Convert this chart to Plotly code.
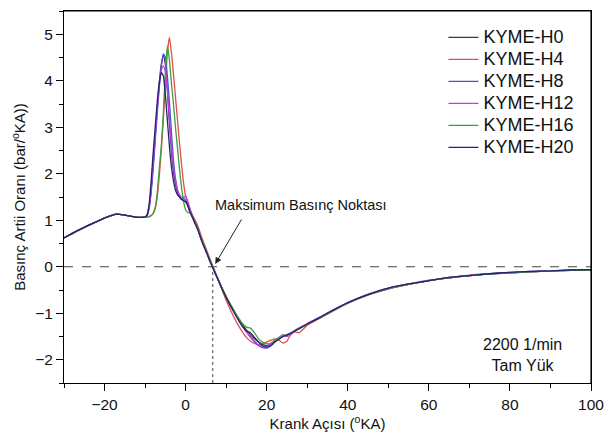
import plotly.graph_objects as go

# ---------------- data ----------------
crank_angle = [-30, -27, -24, -21, -18, -17, -15, -13, -11, -10,
               -9.5, -9, -8.5, -8, -7.5, -7, -6.5, -6, -5.5, -5, -4.5, -4, -3.5, -3,
               -2.5, -2, -1.5, -1, -0.5, 0, 0.5, 1, 1.5, 2,
               3, 4, 5, 6, 7, 8, 9, 10, 11, 12, 13, 14, 15, 16, 17, 18, 19, 20,
               21, 22, 23, 24, 25, 26, 27, 28,
               30, 33, 36, 40, 45, 50, 55, 60, 65, 70, 75, 80, 85, 90, 95, 100]

start_common = [0.62, 0.76, 0.89, 1.01, 1.11, 1.13, 1.11, 1.08, 1.06, 1.07]

peak_H0 = [1.10, 1.28, 1.65, 2.20, 2.80, 3.40, 3.95, 4.35, 4.55, 4.35, 3.80, 3.10, 2.50, 2.05,
           1.78, 1.60, 1.50, 1.45, 1.42, 1.40, 1.32, 1.20, 1.10, 1.00]
peak_H4 = [1.07, 1.08, 1.10, 1.14, 1.25, 1.50, 1.95, 2.50, 3.15, 3.90, 4.60, 4.93, 4.60, 4.15,
           3.65, 3.15, 2.65, 2.20, 1.80, 1.52, 1.38, 1.26, 1.15, 1.06]
peak_H8 = [1.10, 1.25, 1.60, 2.10, 2.70, 3.30, 3.85, 4.30, 4.58, 4.50, 4.10, 3.55, 2.90, 2.30,
           1.90, 1.65, 1.50, 1.45, 1.47, 1.43, 1.33, 1.20, 1.10, 1.00]
peak_H12 = [1.12, 1.30, 1.70, 2.30, 2.85, 3.40, 3.90, 4.22, 4.32, 4.20, 3.80, 3.20, 2.60, 2.15,
            1.85, 1.65, 1.55, 1.50, 1.50, 1.52, 1.42, 1.27, 1.13, 1.02]
peak_H16 = [1.07, 1.08, 1.10, 1.15, 1.28, 1.60, 2.10, 2.60, 3.30, 4.20, 4.75, 4.45, 3.95, 3.50,
            3.00, 2.55, 2.10, 1.70, 1.40, 1.22, 1.17, 1.16, 1.10, 1.02]
peak_H20 = [1.12, 1.35, 1.85, 2.45, 3.00, 3.55, 3.95, 4.18, 4.10, 3.70, 3.15, 2.60, 2.15, 1.85,
            1.65, 1.55, 1.50, 1.45, 1.42, 1.40, 1.33, 1.20, 1.10, 1.00]

fall_H0 = [0.82, 0.57, 0.36, 0.14, -0.07, -0.27, -0.46, -0.64, -0.80, -0.96, -1.10, -1.24, -1.36,
           -1.46, -1.55, -1.62, -1.67, -1.70, -1.66, -1.60, -1.54, -1.50, -1.46, -1.42, -1.37, -1.32]
fall_H4 = [0.88, 0.63, 0.40, 0.17, -0.05, -0.27, -0.50, -0.72, -0.92, -1.10, -1.26, -1.40, -1.52,
           -1.60, -1.65, -1.68, -1.66, -1.62, -1.58, -1.55, -1.58, -1.64, -1.60, -1.45, -1.40, -1.42]
fall_H8 = [0.80, 0.55, 0.34, 0.12, -0.08, -0.28, -0.48, -0.66, -0.83, -0.98, -1.13, -1.27, -1.40,
           -1.52, -1.62, -1.70, -1.74, -1.75, -1.70, -1.62, -1.55, -1.50, -1.47, -1.43, -1.38, -1.33]
fall_H12 = [0.81, 0.56, 0.35, 0.13, -0.07, -0.27, -0.47, -0.65, -0.82, -0.98, -1.13, -1.28, -1.40,
            -1.50, -1.60, -1.68, -1.72, -1.72, -1.66, -1.58, -1.52, -1.46, -1.50, -1.45, -1.37, -1.32]
fall_H16 = [0.82, 0.57, 0.36, 0.14, -0.06, -0.26, -0.46, -0.64, -0.80, -0.95, -1.10, -1.22, -1.30,
            -1.32, -1.42, -1.55, -1.62, -1.66, -1.64, -1.58, -1.53, -1.49, -1.46, -1.42, -1.38, -1.33]
fall_H20 = [0.80, 0.55, 0.34, 0.12, -0.08, -0.28, -0.48, -0.66, -0.83, -0.99, -1.14, -1.28, -1.38,
            -1.42, -1.52, -1.62, -1.70, -1.73, -1.70, -1.62, -1.56, -1.50, -1.47, -1.43, -1.38, -1.33]

tail_H0 = [-1.24, -1.10, -0.96, -0.78, -0.60, -0.47, -0.38, -0.30, -0.24, -0.19, -0.15, -0.13, -0.11, -0.09, -0.08, -0.07]
tail_H4 = [-1.26, -1.11, -0.97, -0.79, -0.61, -0.48, -0.38, -0.30, -0.24, -0.19, -0.15, -0.13, -0.11, -0.09, -0.08, -0.07]
tail_H8 = [-1.23, -1.09, -0.95, -0.77, -0.60, -0.47, -0.37, -0.30, -0.23, -0.19, -0.15, -0.12, -0.10, -0.09, -0.08, -0.06]
tail_H12 = [-1.22, -1.09, -0.96, -0.78, -0.59, -0.46, -0.37, -0.29, -0.24, -0.18, -0.15, -0.13, -0.11, -0.09, -0.07, -0.06]
tail_H16 = [-1.24, -1.10, -0.96, -0.78, -0.60, -0.47, -0.38, -0.30, -0.24, -0.19, -0.16, -0.13, -0.11, -0.09, -0.08, -0.07]
tail_H20 = [-1.23, -1.10, -0.95, -0.77, -0.60, -0.46, -0.37, -0.30, -0.23, -0.19, -0.15, -0.12, -0.10, -0.09, -0.07, -0.06]

series_names = ["KYME-H0", "KYME-H4", "KYME-H8", "KYME-H12", "KYME-H16", "KYME-H20"]
series_colors = ["#3a3a3a", "#e0504a", "#4f4fd6", "#c43de0", "#3f9e3f", "#24246e"]
series_values = [
    start_common + peak_H0 + fall_H0 + tail_H0,
    start_common + peak_H4 + fall_H4 + tail_H4,
    start_common + peak_H8 + fall_H8 + tail_H8,
    start_common + peak_H12 + fall_H12 + tail_H12,
    start_common + peak_H16 + fall_H16 + tail_H16,
    start_common + peak_H20 + fall_H20 + tail_H20,
]

x_ticks = [-20, 0, 20, 40, 60, 80, 100]
y_ticks = [-2, -1, 0, 1, 2, 3, 4, 5]
x_range = [-30, 100]
y_range = [-2.5, 5.5]
max_point_x = 6.7

FONT = "Liberation Sans, Arial, sans-serif"

fig = go.Figure()
for name, color, vals in zip(series_names, series_colors, series_values):
    fig.add_trace(go.Scatter(x=crank_angle, y=vals, name='<span style="font-size:18px">%s</span>' % name,
                             mode="lines",
                             line=dict(color=color, width=1.3, shape="spline", smoothing=0.5)))

# top and right frame lines, drawn in data coordinates at the axis limits
fig.add_shape(type="line", xref="x", yref="y", x0=x_range[0], x1=x_range[1], y0=y_range[1], y1=y_range[1],
              line=dict(color="black", width=1.2), layer="above")
fig.add_shape(type="line", xref="x", yref="y", x0=x_range[1], x1=x_range[1], y0=y_range[0], y1=y_range[1],
              line=dict(color="black", width=1.2), layer="above")

# reference lines
fig.add_shape(type="line", xref="x", yref="y", x0=x_range[0], x1=x_range[1], y0=0, y1=0,
              line=dict(color="#444444", width=1, dash="dash"), layer="below")
fig.add_shape(type="line", xref="x", yref="y", x0=max_point_x, x1=max_point_x, y0=y_range[0], y1=0,
              line=dict(color="#444444", width=1, dash="dot"), layer="below")

fig.add_annotation(x=max_point_x + 0.6, y=0.06, ax=14, ay=1.05, xref="x", yref="y", axref="x", ayref="y",
                   text="", showarrow=True, arrowhead=2, arrowsize=1.3, arrowwidth=1, arrowcolor="#222222")
fig.add_annotation(x=28.5, y=1.32, xref="x", yref="y", text="Maksimum Basınç Noktası", showarrow=False,
                   font=dict(family=FONT, size=14.5, color="#111111"))
fig.add_annotation(x=83, y=-1.9, xref="x", yref="y", text="2200 1/min<br>Tam Yük", showarrow=False,
                   font=dict(family=FONT, size=16, color="#111111"), align="center")

axis_common = dict(showline=True, linecolor="black", linewidth=1, showgrid=False, zeroline=False,
                   ticks="outside", ticklen=7, tickcolor="black", mirror=True)

fig.update_layout(
    width=614, height=439,
    margin=dict(l=64, r=22, t=10, b=55),
    paper_bgcolor="white", plot_bgcolor="white",
    font=dict(family=FONT, size=15, color="#111111"),
    xaxis=dict(range=x_range, tickvals=x_ticks,
               minor=dict(dtick=10, tick0=0, ticks="outside", ticklen=4, tickcolor="black"),
               title=dict(text="Krank Açısı (<sup>o</sup>KA)", font=dict(size=15), standoff=6),
               tickfont=dict(size=15.5), **axis_common),
    yaxis=dict(range=y_range, tickvals=y_ticks,
               minor=dict(dtick=0.5, tick0=0, ticks="outside", ticklen=4, tickcolor="black"),
               title=dict(text="Basınç Artii Oranı (bar/<sup>o</sup>KA))", font=dict(size=15), standoff=5),
               tickfont=dict(size=15.5), **axis_common),
    legend=dict(x=0.72, y=0.972, xanchor="left", yanchor="top", bgcolor="rgba(0,0,0,0)",
                font=dict(family=FONT, size=14.6, color="#111111"), tracegroupgap=0),
    showlegend=True,
)

fig.write_html("out.html")
